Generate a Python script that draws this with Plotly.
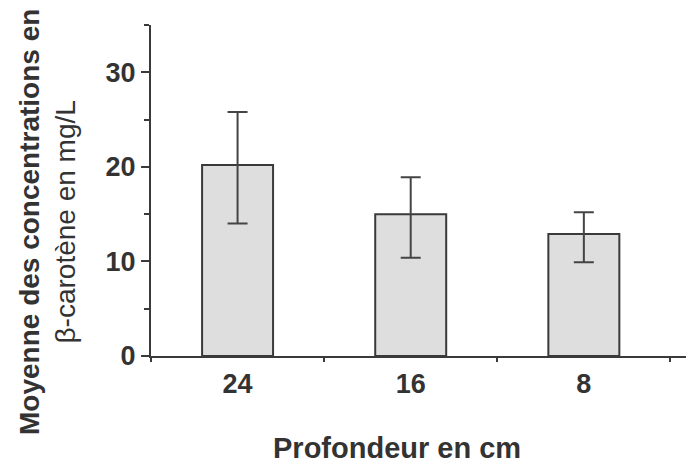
import plotly.graph_objects as go

categories = ["24", "16", "8"]
means = [20.2, 15.0, 12.9]
err_plus = [5.6, 3.9, 2.3]
err_minus = [6.2, 4.6, 3.0]
y_ticks = [0, 10, 20, 30]

FONT = "Liberation Sans, Arial, sans-serif"
INK = "#333333"

fig = go.Figure()
fig.add_trace(go.Bar(
    x=categories, y=means, width=0.41,
    marker=dict(color="#dedede", line=dict(color="#3a3a3a", width=2)),
    error_y=dict(type="data", symmetric=False, array=err_plus, arrayminus=err_minus,
                 color="#444444", thickness=2, width=10),
))

fig.update_layout(
    width=686, height=471,
    margin=dict(l=151, r=0, t=25, b=115),
    paper_bgcolor="white", plot_bgcolor="white",
    showlegend=False,
    font=dict(family=FONT, color=INK),
    xaxis=dict(
        type="category", range=[-0.5, 2.59],
        showline=True, linecolor="#3a3a3a", linewidth=2,
        ticks="outside", tickson="boundaries", ticklen=4, tickwidth=2, tickcolor="#3a3a3a",
        tickfont=dict(size=27, family=FONT, color=INK, weight="bold"),
        ticklabelstandoff=3,
        showgrid=False, zeroline=False,
    ),
    yaxis=dict(
        range=[0, 35], tickvals=y_ticks,
        showline=True, linecolor="#3a3a3a", linewidth=2,
        ticks="outside", ticklen=8, tickwidth=2, tickcolor="#3a3a3a",
        minor=dict(dtick=5, ticks="outside", ticklen=5, tickwidth=1.5, tickcolor="#3a3a3a", showgrid=False),
        tickfont=dict(size=27, family=FONT, color=INK, weight="bold"),
        showgrid=False, zeroline=False,
    ),
    annotations=[
        dict(text="<b>Profondeur en cm</b>", xref="paper", yref="paper",
             x=(397 - 151) / 535, y=-(448 - 356) / 331, xanchor="center", yanchor="middle",
             showarrow=False, font=dict(size=29, family=FONT, color=INK)),
        dict(text="<b>Moyenne des concentrations en</b><br>β-carotène en mg/L",
             xref="paper", yref="paper", textangle=-90,
             x=-(151 - 47) / 535, y=(356 - 222) / 331, xanchor="center", yanchor="middle",
             showarrow=False, font=dict(size=28, family=FONT, color=INK)),
    ],
)

fig.write_html("out.html")
